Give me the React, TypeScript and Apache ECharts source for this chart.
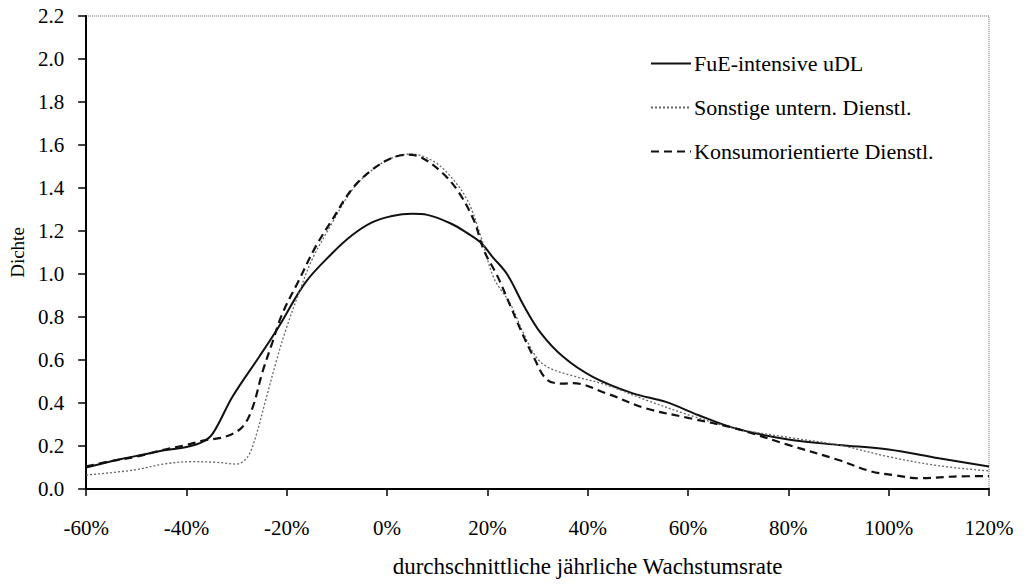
import React, { useEffect, useRef } from "react";
import * as echarts from "echarts";

const xTicks = { min: -60, max: 120, step: 20 };
const yTicks = { min: 0, max: 2.2, step: 0.2 };

const seriesNames = [
  "FuE-intensive uDL",
  "Sonstige untern. Dienstl.",
  "Konsumorientierte Dienstl.",
];

const fueData: [number, number][] = [
  [-60, 0.1], [-53, 0.14], [-48.5, 0.16], [-44.5, 0.18], [-40, 0.195], [-36.7, 0.22],
  [-34.7, 0.26], [-30.8, 0.43], [-25.5, 0.615], [-21.6, 0.755], [-16.3, 0.96], [-11, 1.095],
  [-7, 1.18], [-3, 1.24], [1, 1.27], [5, 1.28], [8, 1.275], [12.7, 1.235], [16, 1.19],
  [18.7, 1.145], [21, 1.08], [23.9, 1.0], [27.2, 0.855], [30.5, 0.73], [35.1, 0.615],
  [41, 0.522], [49, 0.445], [55.6, 0.405], [62, 0.344], [69.4, 0.282], [80, 0.23],
  [90, 0.205], [100, 0.184], [110, 0.143], [120, 0.105],
];

const sonstigeData: [number, number][] = [
  [-60, 0.065], [-50.6, 0.088], [-44, 0.118], [-38.7, 0.127], [-34, 0.124], [-30, 0.116],
  [-27.8, 0.15], [-26.2, 0.243], [-24.2, 0.414], [-22.2, 0.585], [-20.2, 0.74], [-17.6, 0.91],
  [-15, 1.065], [-11, 1.236], [-7, 1.39], [-3, 1.484], [1, 1.54], [4.8, 1.558], [8.8, 1.53],
  [12.1, 1.468], [16, 1.344], [18.7, 1.174], [21.3, 0.98], [24.6, 0.86], [27.2, 0.724],
  [29.9, 0.608], [32.5, 0.561], [37.1, 0.526], [43.7, 0.484], [51.6, 0.414], [60.2, 0.344],
  [69.4, 0.282], [80, 0.24], [90, 0.205], [100, 0.15], [110, 0.108], [120, 0.084],
];

const konsumData: [number, number][] = [
  [-60, 0.105], [-55, 0.13], [-50, 0.15], [-45, 0.18], [-40, 0.205], [-36.7, 0.225],
  [-32, 0.245], [-28.8, 0.29], [-26.8, 0.38], [-24.9, 0.54], [-22.9, 0.68], [-20.9, 0.815],
  [-17.6, 0.97], [-14.3, 1.125], [-11, 1.25], [-7, 1.395], [-3, 1.485], [1, 1.54], [4.2, 1.555],
  [7, 1.54], [10.8, 1.475], [14, 1.39], [17.3, 1.25], [19.3, 1.11], [22, 0.99], [24.6, 0.85],
  [27.2, 0.71], [29.2, 0.615], [31.8, 0.51], [35, 0.49], [37.1, 0.492], [43.7, 0.445],
  [51.6, 0.375], [60.2, 0.33], [69.4, 0.282], [80, 0.205], [90, 0.135], [96.5, 0.082],
  [101, 0.065], [106, 0.05], [113, 0.058], [120, 0.06],
];

const FONT = "'Liberation Serif', 'Times New Roman', serif";

export default function App() {
  const ref = useRef<HTMLDivElement>(null);
  useEffect(() => {
    if (!ref.current) return;
    const chart = echarts.init(ref.current, undefined, { renderer: "svg" });
    chart.setOption({
      animation: false,
      backgroundColor: "#ffffff",
      textStyle: { fontFamily: FONT, color: "#000" },
      grid: {
        left: 79,
        right: 37,
        top: 16,
        bottom: 95,
        show: true,
        borderColor: "#666",
        borderWidth: 1,
        borderType: "dotted",
      },
      legend: {
        orient: "vertical",
        left: 645,
        top: 47,
        itemWidth: 40,
        itemHeight: 14,
        itemGap: 21,
        itemStyle: { opacity: 0 },
        textStyle: { fontFamily: FONT, fontSize: 22, color: "#000", lineHeight: 23, padding: [0, 0, 0, -2] },
        data: seriesNames,
      },
      xAxis: {
        type: "value",
        min: xTicks.min,
        max: xTicks.max,
        interval: xTicks.step,
        name: "durchschnittliche jährliche Wachstumsrate",
        nameLocation: "middle",
        nameGap: 66,
        nameTextStyle: { fontFamily: FONT, fontSize: 23, color: "#000", padding: [0, 0, 0, 100] },
        axisLine: { onZero: false, lineStyle: { color: "#000", width: 2 } },
        axisTick: { show: true, length: 7, lineStyle: { color: "#000", width: 1.5 } },
        axisLabel: {
          margin: 28,
          fontFamily: FONT,
          fontSize: 21,
          color: "#000",
          formatter: (v: number) => `${v}%`,
        },
        splitLine: { show: false },
      },
      yAxis: {
        type: "value",
        min: yTicks.min,
        max: yTicks.max,
        interval: yTicks.step,
        name: "Dichte",
        nameLocation: "middle",
        nameGap: 56,
        nameTextStyle: { fontFamily: FONT, fontSize: 19, color: "#000" },
        axisLine: { onZero: false, lineStyle: { color: "#000", width: 2 } },
        axisTick: { show: true, length: 8, lineStyle: { color: "#000", width: 1.5 } },
        axisLabel: {
          margin: 22,
          fontFamily: FONT,
          fontSize: 21,
          color: "#000",
          formatter: (v: number) => v.toFixed(1),
        },
        splitLine: { show: false },
      },
      series: [
        {
          name: seriesNames[0],
          type: "line",
          data: fueData,
          smooth: 0.35,
          symbol: "none",
          lineStyle: { color: "#111", width: 2, type: "solid" },
          itemStyle: { color: "#111" },
        },
        {
          name: seriesNames[1],
          type: "line",
          data: sonstigeData,
          smooth: 0.35,
          symbol: "none",
          lineStyle: { color: "#666", width: 1.3, type: [2, 2] },
          itemStyle: { color: "#666" },
        },
        {
          name: seriesNames[2],
          type: "line",
          data: konsumData,
          smooth: 0.35,
          symbol: "none",
          lineStyle: { color: "#111", width: 2.2, type: [8, 5] },
          itemStyle: { color: "#111" },
        },
      ],
    });
    return () => chart.dispose();
  }, []);
  return (
    <div
      ref={ref}
      style={{ position: "absolute", left: 0, top: 0, width: 1026, height: 584 }}
    />
  );
}
